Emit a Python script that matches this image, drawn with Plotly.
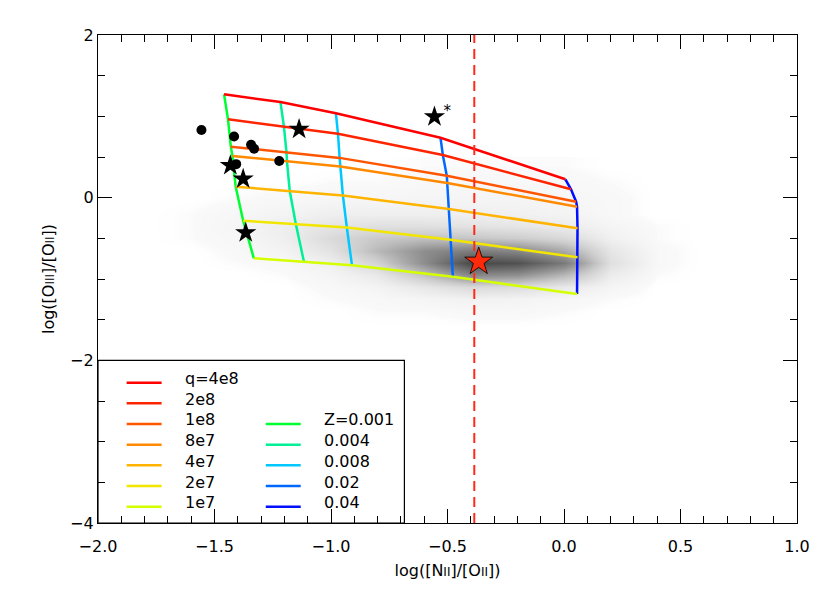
import plotly.graph_objects as go

# ---------------- data ----------------
Q_LABELS = ["q=4e8", "2e8", "1e8", "8e7", "4e7", "2e7", "1e7"]
Q_COLORS = ["#FF0000", "#FF2400", "#FF5500", "#FF8A00", "#FFB400", "#F2E600", "#D4FF00"]
Z_LABELS = ["Z=0.001", "0.004", "0.008", "0.02", "0.04"]
Z_COLORS = ["#00FF30", "#00F098", "#00C8FF", "#0068FF", "#0010FF"]

# grid vertices: one list per ionisation parameter q, points ordered by Z
Q4E8_X = [-1.459, -1.217, -0.979, -0.530, 0.006]
Q4E8_Y = [1.271, 1.176, 1.037, 0.737, 0.226]
Q2E8_X = [-1.442, -1.202, -0.970, -0.520, 0.030]
Q2E8_Y = [0.963, 0.873, 0.785, 0.525, 0.103]
Q1E8_X = [-1.430, -1.191, -0.963, -0.503, 0.052]
Q1E8_Y = [0.627, 0.557, 0.489, 0.269, -0.050]
Q8E7_X = [-1.423, -1.189, -0.960, -0.501, 0.056]
Q8E7_Y = [0.512, 0.447, 0.384, 0.180, -0.111]
Q4E7_X = [-1.409, -1.177, -0.949, -0.494, 0.058]
Q4E7_Y = [0.135, 0.081, 0.028, -0.139, -0.377]
Q2E7_X = [-1.377, -1.151, -0.932, -0.487, 0.058]
Q2E7_Y = [-0.283, -0.325, -0.367, -0.517, -0.733]
Q1E7_X = [-1.331, -1.116, -0.910, -0.477, 0.056]
Q1E7_Y = [-0.746, -0.789, -0.830, -0.973, -1.185]

GRID_X = [Q4E8_X, Q2E8_X, Q1E8_X, Q8E7_X, Q4E7_X, Q2E7_X, Q1E7_X]
GRID_Y = [Q4E8_Y, Q2E8_Y, Q1E8_Y, Q8E7_Y, Q4E7_Y, Q2E7_Y, Q1E7_Y]

# observed objects
CIRCLE_X = [-1.556, -1.416, -1.343, -1.330, -1.222, -1.407]
CIRCLE_Y = [0.832, 0.752, 0.650, 0.602, 0.451, 0.412]
STAR_X = [-1.432, -1.377, -1.366, -1.137, -0.556]
STAR_Y = [0.395, 0.229, -0.431, 0.841, 0.995]
ASTERISK_X = [-0.501]
ASTERISK_Y = [1.05]
RED_STAR_X = [-0.366]
RED_STAR_Y = [-0.787]
DIVIDER_X = -0.385

# background galaxy density (estimated by eye, relative units)
DENS_X = [-1.8, -1.6, -1.4, -1.2, -1.0, -0.8, -0.6, -0.4, -0.2, 0.0, 0.2, 0.4, 0.6]
DENS_Y = [0.4, 0.2, 0.0, -0.2, -0.35, -0.5, -0.65, -0.8, -0.95, -1.1, -1.25, -1.4, -1.6]
DENS_Z = [
    [0, 0.00, 0.00, 0.00, 0.00, 0.00, 0.01, 0.01, 0.01, 0.01, 0.00, 0.00, 0],
    [0, 0.00, 0.00, 0.00, 0.01, 0.01, 0.02, 0.02, 0.02, 0.02, 0.01, 0.00, 0],
    [0, 0.00, 0.01, 0.02, 0.03, 0.03, 0.04, 0.04, 0.04, 0.03, 0.02, 0.00, 0],
    [0, 0.01, 0.03, 0.05, 0.08, 0.08, 0.08, 0.08, 0.07, 0.05, 0.02, 0.00, 0],
    [0, 0.01, 0.04, 0.09, 0.15, 0.18, 0.18, 0.16, 0.14, 0.10, 0.04, 0.01, 0],
    [0, 0.01, 0.03, 0.08, 0.22, 0.32, 0.36, 0.34, 0.30, 0.22, 0.07, 0.01, 0],
    [0, 0.00, 0.02, 0.05, 0.16, 0.40, 0.62, 0.72, 0.66, 0.48, 0.14, 0.02, 0],
    [0, 0.00, 0.01, 0.02, 0.08, 0.26, 0.62, 1.00, 0.95, 0.72, 0.18, 0.02, 0],
    [0, 0.00, 0.00, 0.01, 0.04, 0.12, 0.35, 0.65, 0.60, 0.40, 0.10, 0.01, 0],
    [0, 0.00, 0.00, 0.00, 0.02, 0.05, 0.13, 0.22, 0.20, 0.12, 0.04, 0.00, 0],
    [0, 0.00, 0.00, 0.00, 0.01, 0.02, 0.04, 0.06, 0.05, 0.03, 0.01, 0.00, 0],
    [0, 0.00, 0.00, 0.00, 0.00, 0.01, 0.01, 0.02, 0.02, 0.01, 0.00, 0.00, 0],
    [0, 0.00, 0.00, 0.00, 0.00, 0.00, 0.00, 0.00, 0.00, 0.00, 0.00, 0.00, 0],
]

X_RANGE = [-2.0, 1.0]
Y_RANGE = [-4.0, 2.0]

FONT = "DejaVu Sans"

fig = go.Figure()

fig.add_trace(go.Heatmap(
    x=DENS_X, y=DENS_Y, z=DENS_Z, zmin=0, zmax=1, zsmooth="best",
    colorscale=[[0, "rgba(255,255,255,0)"], [0.012, "rgba(249,249,249,1)"],
                [0.1, "rgb(236,236,236)"], [0.3, "rgb(205,205,205)"],
                [0.6, "rgb(145,145,145)"], [1, "rgb(72,72,72)"]],
    showscale=False, hoverinfo="skip"))

# Z lines (constant metallicity)
for j, col in enumerate(Z_COLORS):
    fig.add_trace(go.Scatter(
        x=[GRID_X[i][j] for i in range(len(GRID_X))],
        y=[GRID_Y[i][j] for i in range(len(GRID_Y))],
        mode="lines", line=dict(color=col, width=2.5), showlegend=False))

# q lines (constant ionisation parameter)
for i, col in enumerate(Q_COLORS):
    fig.add_trace(go.Scatter(x=GRID_X[i], y=GRID_Y[i], mode="lines",
                             line=dict(color=col, width=2.5), showlegend=False))

fig.add_trace(go.Scatter(x=CIRCLE_X, y=CIRCLE_Y, mode="markers",
                         marker=dict(symbol="circle", size=10, color="black"),
                         showlegend=False))
fig.add_trace(go.Scatter(x=STAR_X, y=STAR_Y, mode="markers",
                         marker=dict(symbol="star", size=16, color="black"),
                         showlegend=False))
fig.add_trace(go.Scatter(x=ASTERISK_X, y=ASTERISK_Y, mode="text", text=["*"],
                         textfont=dict(family=FONT, size=15, color="black"),
                         showlegend=False))
fig.add_trace(go.Scatter(x=[DIVIDER_X, DIVIDER_X], y=Y_RANGE, mode="lines",
                         line=dict(color="#FF2A1A", width=2, dash="10px,6px"),
                         showlegend=False))
fig.add_trace(go.Scatter(x=RED_STAR_X, y=RED_STAR_Y, mode="markers",
                         marker=dict(symbol="star", size=21, color="#FF2A0A",
                                     line=dict(color="black", width=0.8)),
                         showlegend=False))

# legend box
fig.add_shape(type="rect", xref="x", yref="y", x0=-2.0, x1=-0.685, y0=-4.0, y1=-2.0,
              fillcolor="white", line=dict(color="black", width=1.2), layer="below")

ROW_Y = [0.2875, 0.2453, 0.2029, 0.1605, 0.1182, 0.0758, 0.0334]
for i, (lab, col) in enumerate(zip(Q_LABELS, Q_COLORS)):
    fig.add_shape(type="line", xref="paper", yref="paper", x0=0.041, x1=0.091,
                  y0=ROW_Y[i], y1=ROW_Y[i], line=dict(color=col, width=2.5), layer="above")
    fig.add_annotation(xref="paper", yref="paper", x=0.122, y=ROW_Y[i], text=lab,
                       showarrow=False, xanchor="left", yanchor="middle", yshift=4,
                       font=dict(family=FONT, size=16, color="black"))
for j, (lab, col) in enumerate(zip(Z_LABELS, Z_COLORS)):
    r = ROW_Y[j + 2]
    fig.add_shape(type="line", xref="paper", yref="paper", x0=0.240, x1=0.290,
                  y0=r, y1=r, line=dict(color=col, width=2.5), layer="above")
    fig.add_annotation(xref="paper", yref="paper", x=0.321, y=r, text=lab,
                       showarrow=False, xanchor="left", yanchor="middle", yshift=4,
                       font=dict(family=FONT, size=16, color="black"))

axis_common = dict(showgrid=False, zeroline=False, showline=True, linecolor="black",
                   linewidth=1.2, mirror="ticks", ticks="inside", ticklen=14,
                   tickwidth=1, tickcolor="black",
                   tickfont=dict(family=FONT, size=16, color="black"))

fig.update_xaxes(range=X_RANGE, dtick=0.5, tick0=-2, tickformat=".1f",
                 ticklabelstandoff=9,
                 minor=dict(dtick=0.1, ticklen=7, ticks="inside", tickcolor="black"),
                 title=dict(text="log([N<span style='font-size:12px'>II</span>]/[O<span style='font-size:12px'>II</span>])",
                            font=dict(family=FONT, size=16, color="black"), standoff=9),
                 **axis_common)
fig.update_yaxes(range=Y_RANGE, dtick=2, tick0=-4,
                 minor=dict(dtick=0.5, ticklen=7, ticks="inside", tickcolor="black"),
                 title=dict(text="log([O<span style='font-size:12px'>III</span>]/[O<span style='font-size:12px'>II</span>])",
                            font=dict(family=FONT, size=16, color="black"), standoff=11),
                 **axis_common)

# page body adds an 8px margin, so the figure is sized/offset to compensate
fig.update_layout(width=814, height=577, margin=dict(l=90, r=25, t=27, b=62, autoexpand=False),
                  plot_bgcolor="white", paper_bgcolor="white", showlegend=False)

fig.write_html("out.html")
